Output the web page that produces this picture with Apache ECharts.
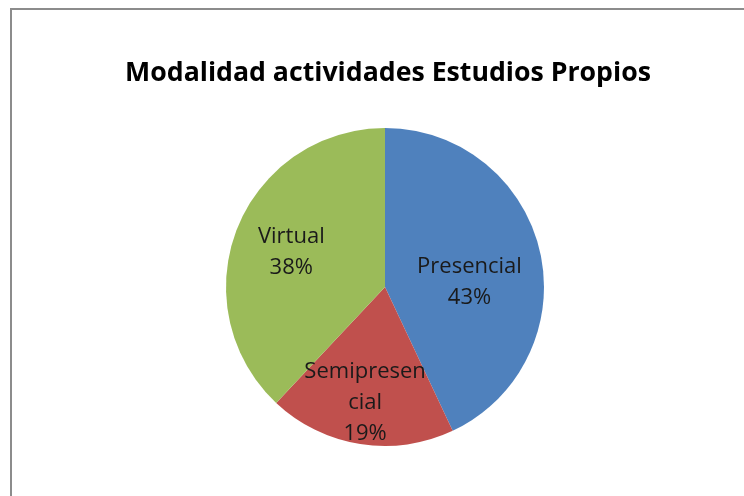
<!DOCTYPE html>
<html>
<head>
<meta charset="utf-8">
<script src="https://cdn.jsdelivr.net/npm/echarts@6/dist/echarts.min.js"></script>
<style>
  html, body { margin: 0; padding: 0; background: #fff; }
  #chart { width: 744px; height: 496px; }
</style>
</head>
<body>
<div id="chart"></div>
<script>
// datos del gráfico
const categories = ['Presencial', 'Semipresencial', 'Virtual']
const values = [43, 19, 38]
// texto tal como aparece cortado en la imagen
const labelNames = ['Presencial', 'Semipresen\ncial', 'Virtual']
const colors = ['#4F81BD', '#C0504D', '#9BBB59']

const chart = echarts.init(document.getElementById('chart'))

const labelOffsets = [[4, 13], [-7, 34], [-17, -4]]

chart.setOption({
  animation: false,
  title: {
    text: 'Modalidad actividades Estudios Propios',
    left: 383,
    textAlign: 'center',
    top: 55,
    textStyle: {
      fontFamily: 'Open Sans',
      fontWeight: 'bold',
      fontSize: 26.7,
      color: '#000'
    }
  },
  graphic: [{
    type: 'rect',
    shape: { x: 11, y: 9, width: 800, height: 600 },
    style: { fill: 'none', stroke: '#8c8c8c', lineWidth: 2 }
  }],
  series: [{
    type: 'pie',
    center: [385, 287],
    radius: 159,
    startAngle: 90,
    clockwise: true,
    label: {
      position: 'inside',
      fontFamily: 'Open Sans',
      fontSize: 22,
      lineHeight: 31,
      color: '#1a1a1a'
    },
    labelLine: { show: false },
    emphasis: { disabled: true },
    data: categories.map((name, i) => ({
      name: name,
      value: values[i],
      itemStyle: { color: colors[i] },
      label: {
        offset: labelOffsets[i],
        formatter: labelNames[i] + '\n' + values[i] + '%'
      }
    }))
  }]
})
</script>
</body>
</html>
